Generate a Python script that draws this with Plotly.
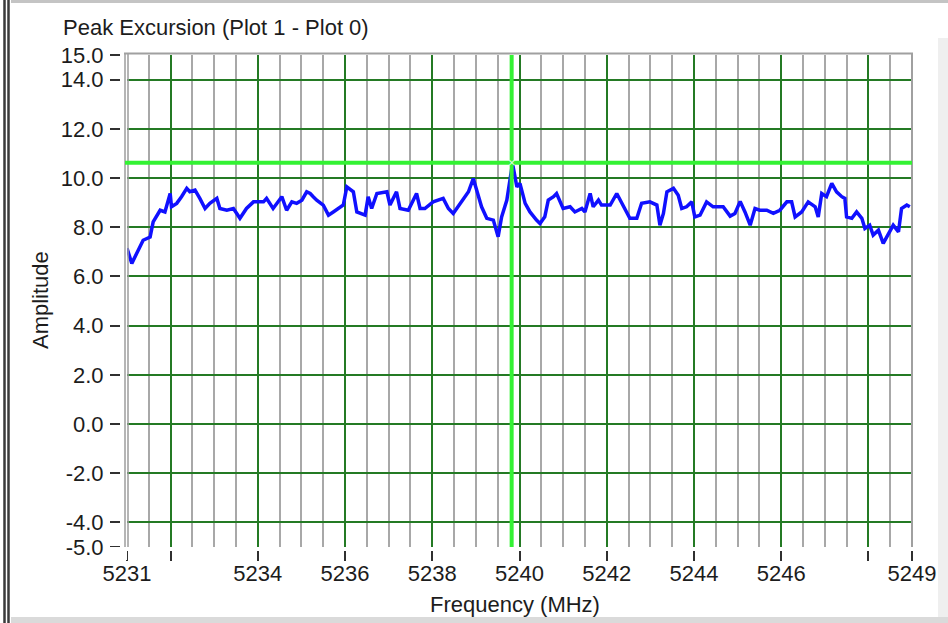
import plotly.graph_objects as go

# ---------------- data ----------------
freq_mhz = [
    5231.00, 5231.11, 5231.37, 5231.53, 5231.60, 5231.76, 5231.87, 5231.99, 5232.02, 5232.14,
    5232.25, 5232.37, 5232.44, 5232.56, 5232.67, 5232.79, 5232.90, 5233.06, 5233.13, 5233.29,
    5233.44, 5233.59, 5233.74, 5233.90, 5234.13, 5234.20, 5234.35, 5234.55, 5234.66, 5234.78,
    5234.89, 5235.01, 5235.12, 5235.20, 5235.27, 5235.35, 5235.50, 5235.62, 5235.73, 5235.88,
    5235.96, 5236.04, 5236.19, 5236.27, 5236.38, 5236.46, 5236.53, 5236.61, 5236.73, 5236.96,
    5237.03, 5237.18, 5237.26, 5237.45, 5237.64, 5237.72, 5237.83, 5238.02, 5238.25, 5238.37,
    5238.48, 5238.64, 5238.83, 5238.94, 5239.02, 5239.13, 5239.25, 5239.40, 5239.51, 5239.59,
    5239.71, 5239.78, 5239.84, 5239.94, 5240.01, 5240.13, 5240.24, 5240.39, 5240.47, 5240.58,
    5240.66, 5240.78, 5240.85, 5241.00, 5241.16, 5241.27, 5241.43, 5241.50, 5241.62, 5241.69,
    5241.81, 5241.88, 5242.08, 5242.23, 5242.38, 5242.53, 5242.69, 5242.80, 5242.99, 5243.15,
    5243.22, 5243.30, 5243.38, 5243.53, 5243.64, 5243.72, 5243.83, 5243.95, 5244.02, 5244.14,
    5244.29, 5244.44, 5244.67, 5244.83, 5244.94, 5245.06, 5245.17, 5245.29, 5245.40, 5245.51,
    5245.67, 5245.82, 5245.97, 5246.13, 5246.24, 5246.32, 5246.47, 5246.62, 5246.78, 5246.85,
    5246.93, 5247.04, 5247.16, 5247.27, 5247.39, 5247.46, 5247.50, 5247.62, 5247.73, 5247.85,
    5247.92, 5248.03, 5248.11, 5248.23, 5248.34, 5248.46, 5248.57, 5248.69, 5248.76, 5248.88,
    5248.95,
]
amplitude = [
    7.14, 6.53, 7.47, 7.60, 8.22, 8.69, 8.62, 9.37, 8.83, 8.97,
    9.24, 9.58, 9.44, 9.51, 9.17, 8.76, 8.97, 9.17, 8.76, 8.69,
    8.76, 8.36, 8.76, 9.03, 9.03, 9.17, 8.76, 9.24, 8.69, 9.03,
    8.97, 9.10, 9.44, 9.37, 9.24, 9.10, 8.90, 8.49, 8.62, 8.83,
    8.90, 9.64, 9.44, 8.62, 8.56, 8.49, 9.24, 8.76, 9.37, 9.44,
    8.90, 9.44, 8.76, 8.69, 9.37, 8.76, 8.76, 9.03, 9.17, 8.76,
    8.56, 8.97, 9.44, 9.98, 9.44, 8.83, 8.36, 8.29, 7.61, 8.42,
    9.10, 10.05, 10.59, 9.64, 9.78, 8.97, 8.62, 8.29, 8.15, 8.42,
    9.10, 9.24, 9.37, 8.76, 8.83, 8.62, 8.76, 8.62, 9.37, 8.83,
    9.10, 8.90, 8.90, 9.37, 8.90, 8.36, 8.36, 8.97, 9.03, 8.90,
    8.08, 8.56, 9.44, 9.58, 9.30, 8.76, 8.83, 9.03, 8.42, 8.49,
    9.03, 8.83, 8.83, 8.45, 8.56, 9.05, 8.62, 8.08, 8.76, 8.69,
    8.69, 8.56, 8.69, 9.03, 9.03, 8.42, 8.62, 9.03, 8.83, 8.42,
    9.37, 9.24, 9.78, 9.44, 9.24, 9.17, 8.42, 8.36, 8.62, 8.36,
    7.95, 8.08, 7.68, 7.88, 7.34, 7.75, 8.08, 7.81, 8.76, 8.90,
    8.83,
]

cursor_freq = 5239.82
cursor_amp = 10.62

x_tick_vals = [5231, 5232, 5234, 5236, 5238, 5240, 5242, 5244, 5246, 5248, 5249]
x_tick_text = ["5231", "", "5234", "5236", "5238", "5240", "5242", "5244", "5246", "", "5249"]
y_tick_vals = [-5, -4, -2, 0, 2, 4, 6, 8, 10, 12, 14, 15]
y_tick_text = ["-5.0", "-4.0", "-2.0", "0.0", "2.0", "4.0", "6.0", "8.0", "10.0", "12.0", "14.0", "15.0"]
y_grid_vals = [-4, -2, 0, 2, 4, 6, 8, 10, 12, 14]

title_text = "Peak Excursion (Plot 1 - Plot 0)"
x_title = "Frequency (MHz)"
y_title = "Amplitude"

# ---------------- layout geometry ----------------
W, H = 948, 623
L, R, T, B = 127, 36, 55, 76
PW = W - L - R
PH = H - T - B


def px_x(px):
    return (px - L) / PW


def px_y(py):
    return (H - B - py) / PH


FONT = "Liberation Sans"
FS = 22
TXT = "#1c1c1c"
GREEN_DARK = "#247a24"
GRAY_GRID = "#a8a8a8"
CURSOR = "#33f233"

# minor (gray) vertical grid every 0.5 MHz except where major green lines are
x_minor = [5231 + 0.5 * k for k in range(1, 36)]
x_minor = [v for v in x_minor if not (v == int(v) and int(v) % 2 == 0)]

fig = go.Figure()
fig.add_trace(go.Scatter(
    x=freq_mhz, y=amplitude, mode="lines",
    line=dict(color="#1010ff", width=3.5),
    showlegend=False, hoverinfo="skip",
))

shapes = []
# tick-gap masks
shapes.append(dict(type="rect", xref="paper", yref="paper",
                   x0=px_x(120), x1=px_x(127), y0=px_y(560), y1=px_y(40),
                   fillcolor="white", line=dict(width=0), layer="above"))
shapes.append(dict(type="rect", xref="paper", yref="paper",
                   x0=px_x(110), x1=px_x(930), y0=px_y(551), y1=px_y(547),
                   fillcolor="white", line=dict(width=0), layer="above"))
# plot frame
for xx in (125, 128):
    shapes.append(dict(type="line", xref="paper", yref="paper",
                       x0=px_x(xx), x1=px_x(xx), y0=px_y(547), y1=px_y(53),
                       line=dict(color="#9c9c9c", width=1.5), layer="above"))
shapes.append(dict(type="line", xref="paper", yref="paper",
                   x0=px_x(124), x1=px_x(913), y0=px_y(53.5), y1=px_y(53.5),
                   line=dict(color="#a0a0a0", width=2), layer="above"))
shapes.append(dict(type="line", xref="paper", yref="paper",
                   x0=px_x(912), x1=px_x(912), y0=px_y(547), y1=px_y(53),
                   line=dict(color="#a0a0a0", width=2), layer="above"))
# cursors
shapes.append(dict(type="line", xref="x", yref="paper",
                   x0=cursor_freq, x1=cursor_freq, y0=0, y1=1,
                   line=dict(color=CURSOR, width=4), layer="above"))
shapes.append(dict(type="line", xref="paper", yref="y",
                   x0=px_x(125), x1=1, y0=cursor_amp, y1=cursor_amp,
                   line=dict(color=CURSOR, width=4), layer="above"))
# window decorations
for xx in (4.5, 8.5):
    shapes.append(dict(type="line", xref="paper", yref="paper",
                       x0=px_x(xx), x1=px_x(xx), y0=px_y(623), y1=px_y(0),
                       line=dict(color="#3a3a3a", width=2.5), layer="above"))
shapes.append(dict(type="line", xref="paper", yref="paper",
                   x0=px_x(11), x1=px_x(948), y0=px_y(1.5), y1=px_y(1.5),
                   line=dict(color="#c4c4c4", width=3), layer="above"))
shapes.append(dict(type="rect", xref="paper", yref="paper",
                   x0=px_x(11), x1=px_x(948), y0=px_y(623), y1=px_y(617),
                   fillcolor="#dadada", line=dict(width=0), layer="above"))
shapes.append(dict(type="rect", xref="paper", yref="paper",
                   x0=px_x(938), x1=px_x(948), y0=px_y(617), y1=px_y(38),
                   fillcolor="#efefef", line=dict(width=0), layer="above"))

annotations = [
    dict(text=title_text, xref="paper", yref="paper", x=px_x(61), y=px_y(28),
         xanchor="left", yanchor="middle", showarrow=False,
         font=dict(family=FONT, size=FS, color=TXT)),
    dict(text=y_title, xref="paper", yref="paper", x=px_x(40), y=px_y(300),
         xanchor="center", yanchor="middle", textangle=-90, showarrow=False,
         font=dict(family=FONT, size=FS, color=TXT)),
    dict(text=x_title, xref="paper", yref="paper", x=px_x(515), y=px_y(604),
         xanchor="center", yanchor="middle", showarrow=False,
         font=dict(family=FONT, size=FS, color=TXT)),
    dict(text="×", xref="x", yref="y", x=cursor_freq, y=cursor_amp,
         xanchor="center", yanchor="middle", showarrow=False,
         font=dict(family=FONT, size=13, color="#e6ffe6")),
]

fig.update_layout(
    width=W, height=H,
    margin=dict(l=L, r=R, t=T, b=B, pad=0),
    paper_bgcolor="white", plot_bgcolor="white",
    showlegend=False,
    shapes=shapes,
    annotations=annotations,
    xaxis=dict(
        range=[5231, 5249], tickmode="array", tickvals=x_tick_vals, ticktext=x_tick_text,
        ticks="outside", ticklen=13, tickwidth=2, tickcolor="#303030",
        showgrid=True, gridcolor=GREEN_DARK, gridwidth=2,
        minor=dict(tickmode="array", tickvals=x_minor, showgrid=True,
                   gridcolor=GRAY_GRID, gridwidth=2, ticks=""),
        zeroline=False, showline=False,
        tickfont=dict(family=FONT, size=FS, color=TXT),
        ticklabelstandoff=-6,
        fixedrange=True,
    ),
    yaxis=dict(
        range=[-5, 15], tickmode="array", tickvals=y_tick_vals, ticktext=y_tick_text,
        ticks="outside", ticklen=16, tickwidth=2, tickcolor="#303030",
        showgrid=False,
        minor=dict(tickmode="array", tickvals=y_grid_vals, showgrid=True,
                   gridcolor=GREEN_DARK, gridwidth=2, ticks=""),
        zeroline=False, showline=False,
        tickfont=dict(family=FONT, size=FS, color=TXT),
        ticklabelstandoff=2,
        fixedrange=True,
    ),
)

fig.write_html("out.html")
